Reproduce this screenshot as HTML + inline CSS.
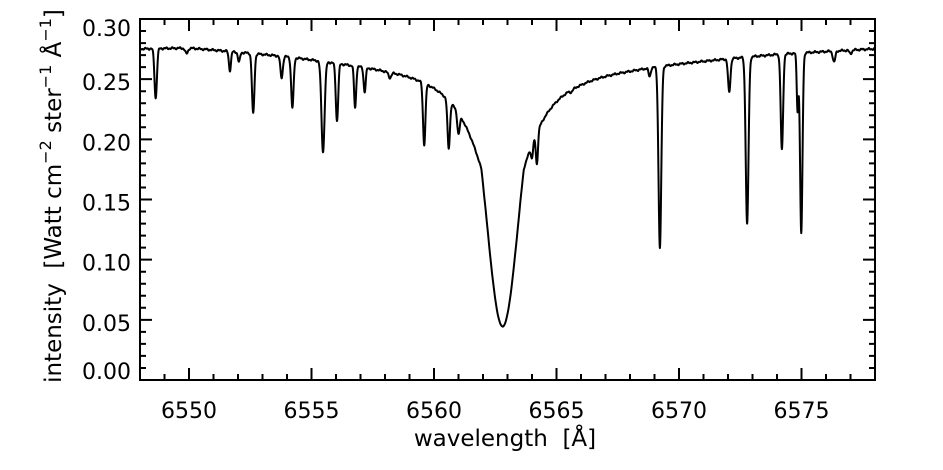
<!DOCTYPE html>
<html><head><meta charset="utf-8"><style>
html,body{margin:0;padding:0;background:#fff}
svg{display:block}
text{font-family:"DejaVu Sans","Liberation Sans",sans-serif;fill:#000;white-space:pre}
</style></head><body>
<svg id="s" width="943" height="470" xmlns="http://www.w3.org/2000/svg">
<g id="ax" stroke="#000" stroke-width="2" fill="none"></g>
<path id="sp" stroke="#000" stroke-width="2" fill="none" stroke-linejoin="round"/>
<g id="lb" font-size="22"></g>
<text x="505" y="446" font-size="23" text-anchor="middle">wavelength  [Å]</text>
<text transform="translate(61,196) rotate(-90)" font-size="23" text-anchor="middle">intensity  [Watt cm<tspan dy="-10" font-size="16">−2</tspan><tspan dy="10"> ster</tspan><tspan dy="-10" font-size="16">−1</tspan><tspan dy="10"> Å</tspan><tspan dy="-10" font-size="16">−1</tspan><tspan dy="10">]</tspan></text>
</svg>
<script>
var L=140,R=875,T=19,B=380;
function X(l){return L+(l-6548)*(R-L)/30;}
function YA(v){return B-v*(B-T)/0.30;}
function Y(v){var yo=19+(0.30-v)*1164.5;return yo*1.0296+0.64;}
var ax=document.getElementById('ax'),lb=document.getElementById('lb'),NS="http://www.w3.org/2000/svg";
var d="M"+L+" "+T+"H"+R+"V"+B+"H"+L+"Z";
for(var l=6548;l<=6578;l++){var x=X(l),m=(l%5==0)?12:6;d+="M"+x+" "+B+"v"+(-m)+"M"+x+" "+T+"v"+m;
 if(l%5==0){var t=document.createElementNS(NS,'text');t.setAttribute('x',x);t.setAttribute('y',418);t.setAttribute('text-anchor','middle');t.textContent=l;lb.appendChild(t);}}
for(var i=0;i<=30;i++){var v=i/100,y=YA(v),m=(i%5==0)?12:6;d+="M"+L+" "+y+"h"+m+"M"+R+" "+y+"h"+(-m);
 if(i%5==0){var yl=y+3;if(i==30)yl=y+9;if(i==0)yl=y-9;var t=document.createElementNS(NS,'text');t.setAttribute('x',131);t.setAttribute('y',yl+8);t.setAttribute('text-anchor','end');t.textContent=v.toFixed(2);lb.appendChild(t);}}
var p=document.createElementNS(NS,'path');p.setAttribute('d',d);ax.appendChild(p);
var cp=[[6548,0.277],[6550,0.278],[6552,0.275],[6554,0.272],[6556,0.268],[6558,0.265],[6562,0.262],[6566,0.262],[6568,0.264],[6570,0.267],[6572,0.270],[6574,0.273],[6576,0.275],[6578,0.277]];
function C(l){for(var i=0;i<cp.length-1;i++){if(l<=cp[i+1][0]){var f=(l-cp[i][0])/(cp[i+1][0]-cp[i][0]);return cp[i][1]+f*(cp[i+1][1]-cp[i][1]);}}return 0.277;}
function H(l){var D=Math.abs(l-6562.8);var g=0.83*Math.exp(-(D/0.9)*(D/0.9)),lo=0.5/(1+(D/1.2)*(D/1.2));return 1-Math.max(g,lo);}
var lines=[[6548.64,0.235,.07],[6549.9,0.272,.08],[6551.67,0.258,.06],[6552.04,0.265,.06],[6552.62,0.222,.07],[6553.78,0.252,.07],[6554.22,0.227,.07],[6555.47,0.19,.09],[6556.04,0.216,.07],[6556.78,0.227,.06],[6557.17,0.24,.06],[6558.2,0.252,.08],[6559.6,0.196,.07],[6560.6,0.193,.07],[6561.0,0.205,.07],[6564.0,0.185,.06],[6564.2,0.18,.06],[6565.6,0.24,.08],[6568.8,0.253,.06],[6569.22,0.11,.08],[6572.05,0.24,.07],[6572.78,0.13,.08],[6574.2,0.192,.07],[6574.84,0.225,.05],[6574.99,0.122,.07],[6576.33,0.265,.07],[6577.0,0.272,.07]];
lines.forEach(function(a){a.push(Math.max(0,1-a[1]/(C(a[0])*H(a[0]))));});
var s="";
for(var l=6548;l<=6578;l+=0.01){var v=C(l)*H(l)*(1+0.002*Math.sin(l*23)+0.0015*Math.sin(l*57));
 lines.forEach(function(a){var z=(l-a[0])/a[2];v*=1-a[3]*Math.exp(-z*z);});
 s+=(s?"L":"M")+X(l).toFixed(2)+" "+Y(v).toFixed(2);}
document.getElementById('sp').setAttribute('d',s);
</script>
</body></html>
